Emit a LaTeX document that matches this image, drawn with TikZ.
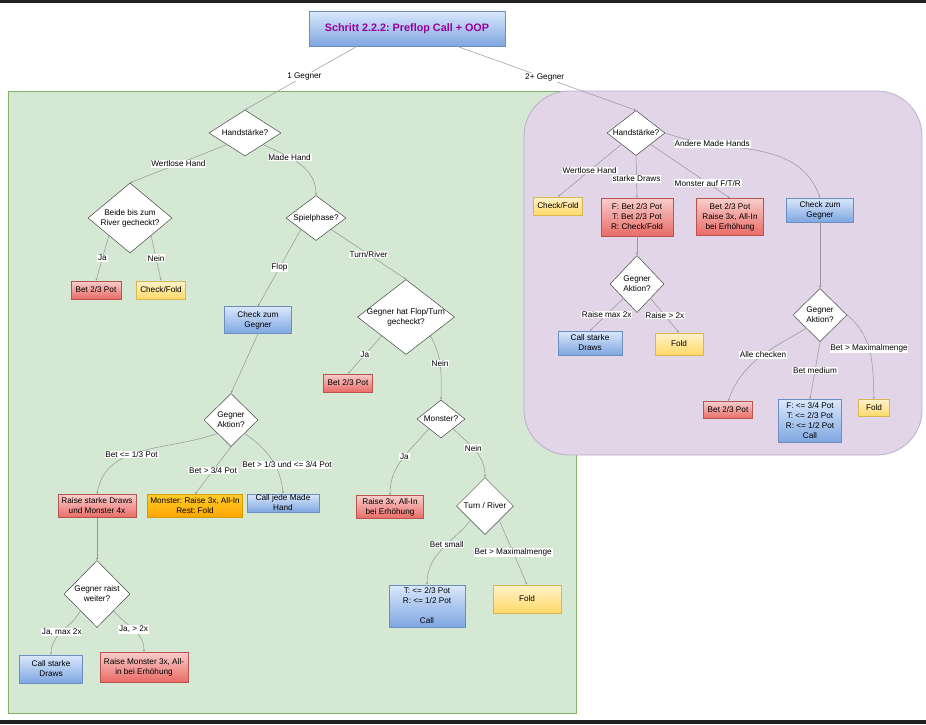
\documentclass[tikz,border=0pt]{standalone}
\usepackage{fontspec}
\setmainfont{Liberation Sans}
\frenchspacing
\usetikzlibrary{shapes.geometric, arrows.meta}
\definecolor{greenfill}{RGB}{213, 232, 212}
\definecolor{greenline}{RGB}{130, 179, 102}
\definecolor{purplefill}{RGB}{225, 213, 231}
\definecolor{purpleline}{RGB}{190, 172, 204}
\definecolor{bluetop}{RGB}{218, 232, 252}
\definecolor{bluebot}{RGB}{126, 166, 224}
\definecolor{blueline}{RGB}{108, 142, 191}
\definecolor{redtop}{RGB}{248, 206, 204}
\definecolor{redbot}{RGB}{234, 107, 102}
\definecolor{redline}{RGB}{184, 84, 80}
\definecolor{yellowtop}{RGB}{255, 242, 204}
\definecolor{yellowbot}{RGB}{255, 217, 102}
\definecolor{yellowline}{RGB}{214, 182, 86}
\definecolor{orangetop}{RGB}{255, 205, 40}
\definecolor{orangebot}{RGB}{255, 165, 0}
\definecolor{orangeline}{RGB}{215, 155, 0}
\definecolor{titletext}{RGB}{153, 0, 153}
\definecolor{edgegray}{RGB}{150, 150, 150}
\definecolor{diamondline}{RGB}{70, 70, 70}
\definecolor{bardark}{RGB}{34, 34, 34}
\newcommand{\qtext}[1]{\makebox[0pt]{\begin{tabular}{@{}c@{}}#1\end{tabular}}}

\begin{document}
\begin{tikzpicture}[
    x=1pt, y=-1pt,
    box/.style={rectangle, align=center, inner sep=1pt, font=\fontsize{8.2}{10}\selectfont, line width=0.6pt},
    bluebox/.style={box, draw=blueline, top color=bluetop, bottom color=bluebot},
    redbox/.style={box, draw=redline, top color=redtop, bottom color=redbot},
    yellowbox/.style={box, draw=yellowline, top color=yellowtop, bottom color=yellowbot},
    orangebox/.style={box, draw=orangeline, top color=orangetop, bottom color=orangebot},
    decision/.style={diamond, draw=diamondline, fill=white, inner sep=0pt, line width=0.5pt, font=\fontsize{8.2}{10}\selectfont},
    region/.style={rectangle, line width=0.8pt},
    conn/.style={-{Stealth[length=2.5pt, width=2pt]}, color=edgegray, line width=0.5pt},
    elabel/.style={fill=white, inner sep=0.8pt, text=black, font=\fontsize{8.2}{10}\selectfont},
]
\useasboundingbox (0,0) rectangle (926,724);
\fill[bardark] (0,0) rectangle (926,3);
\fill[bardark] (0,720) rectangle (926,724);

% Regions
\node[region, draw=greenline, fill=greenfill, minimum width=568pt, minimum height=622pt] (onegroup) at (292,402) {};
\node[region, draw=purpleline, fill=purplefill, rounded corners=45pt, minimum width=398pt, minimum height=364pt] (multigroup) at (723,273) {};

% Title
\node[bluebox, minimum width=196pt, minimum height=35pt, font=\fontsize{10.8}{12}\selectfont\bfseries, text=titletext] (title) at (407,28.5) {Schritt 2.2.2: Preflop Call + OOP};

% 1 Gegner
\node[decision, minimum width=72pt, minimum height=46pt] (handA) at (245,133) {\qtext{Handst\"arke?}};
\node[decision, minimum width=84pt, minimum height=70pt] (checked) at (130,218) {\qtext{Beide bis zum\\River gecheckt?}};
\node[redbox, minimum width=50pt, minimum height=18pt] (betA) at (96,290) {Bet 2/3 Pot};
\node[yellowbox, minimum width=49pt, minimum height=18pt] (foldA) at (161,290) {Check/Fold};
\node[decision, minimum width=60pt, minimum height=45pt] (phase) at (316,218) {\qtext{Spielphase?}};
\node[bluebox, minimum width=67pt, minimum height=27pt] (checkA) at (258,320) {Check zum\\Gegner};
\node[decision, minimum width=97pt, minimum height=75pt] (oppchecked) at (406,317) {\qtext{Gegner hat Flop/Turn\\gecheckt?}};
\node[redbox, minimum width=49pt, minimum height=18pt] (betB) at (348,383) {Bet 2/3 Pot};
\node[decision, minimum width=48pt, minimum height=38pt] (monster) at (441,419) {\qtext{Monster?}};
\node[redbox, minimum width=67pt, minimum height=23pt] (raiseA) at (390,507) {Raise 3x, All-In\\bei Erh\"ohung};
\node[decision, minimum width=57pt, minimum height=57pt] (street) at (485,506) {\qtext{Turn / River}};
\node[bluebox, minimum width=76pt, minimum height=42pt] (callA) at (427,606) {T: <= 2/3 Pot\\R: <= 1/2 Pot\\\mbox{}\\Call};
\node[yellowbox, minimum width=68pt, minimum height=28pt] (foldB) at (527,599) {Fold};
\node[decision, minimum width=54pt, minimum height=53pt] (actionA) at (231,420) {\qtext{Gegner\\Aktion?}};
\node[redbox, minimum width=78pt, minimum height=23pt] (raiseB) at (97,506) {Raise starke Draws\\und Monster 4x};
\node[orangebox, minimum width=95pt, minimum height=23pt] (monsterA) at (195,506) {Monster: Raise 3x, All-In\\Rest: Fold};
\node[bluebox, minimum width=72pt, minimum height=18pt, inner ysep=0pt] (callB) at (283,503) {Call jede Made\\Hand};
\node[decision, minimum width=66pt, minimum height=67pt] (reraise) at (97,594) {\qtext{Gegner raist\\weiter?}};
\node[bluebox, minimum width=63pt, minimum height=28pt] (callC) at (51,669) {Call starke\\Draws};
\node[redbox, minimum width=88pt, minimum height=30pt] (raiseC) at (144,667) {Raise Monster 3x, All-\\in bei Erh\"ohung};

% 2+ Gegner
\node[decision, minimum width=58pt, minimum height=45pt] (handB) at (636,133) {\qtext{Handst\"arke?}};
\node[yellowbox, minimum width=49pt, minimum height=18pt] (foldC) at (558,206) {Check/Fold};
\node[redbox, minimum width=72pt, minimum height=38pt] (draws) at (637,217) {F: Bet 2/3 Pot\\T: Bet 2/3 Pot\\R: Check/Fold};
\node[redbox, minimum width=67pt, minimum height=37pt] (monsterB) at (730,217) {Bet 2/3 Pot\\Raise 3x, All-In\\bei Erh\"ohung};
\node[bluebox, minimum width=67pt, minimum height=24pt] (checkB) at (820,210) {Check zum\\Gegner};
\node[decision, minimum width=54pt, minimum height=57pt] (actionB) at (637,284) {\qtext{Gegner\\Aktion?}};
\node[bluebox, minimum width=64pt, minimum height=24pt] (callD) at (590,343) {Call starke\\Draws};
\node[yellowbox, minimum width=48pt, minimum height=22pt] (foldD) at (679,344) {Fold};
\node[decision, minimum width=54pt, minimum height=53pt] (actionC) at (820,315) {\qtext{Gegner\\Aktion?}};
\node[redbox, minimum width=49pt, minimum height=17pt] (betC) at (728,410) {Bet 2/3 Pot};
\node[bluebox, minimum width=63pt, minimum height=43pt] (callE) at (810,421) {F: <= 3/4 Pot\\T: <= 2/3 Pot\\R: <= 1/2 Pot\\Call};
\node[yellowbox, minimum width=31pt, minimum height=17pt] (foldE) at (874,408) {Fold};

% Connectors
\draw[conn] ([xshift=-50pt]title.south) -- node[elabel, pos=0.47] {1 Gegner} (handA.north);
\draw[conn] ([xshift=50pt]title.south) -- node[elabel, pos=0.49] {2+ Gegner} (handB.north);

\draw[conn] (handA.south west) -- node[elabel] {Wertlose Hand} (checked.north);
\draw[conn] (handA.south east) to[out=-25, in=90] node[elabel, pos=0.35] {Made Hand} (phase.north);
\draw[conn] (checked.south west) -- node[elabel] {Ja} (betA.north);
\draw[conn] (checked.south east) -- node[elabel] {Nein} (foldA.north);
\draw[conn] (phase.south west) -- node[elabel] {Flop} (checkA.north);
\draw[conn] (phase.south east) -- node[elabel] {Turn/River} (oppchecked.north);
\draw[conn] (checkA.south) -- (actionA.north);
\draw[conn] (oppchecked.south west) -- node[elabel] {Ja} (betB.north);
\draw[conn] (oppchecked.south east) to[out=-60, in=90] node[elabel, pos=0.45] {Nein} (monster.north);
\draw[conn] (monster.south west) to[out=-130, in=90] node[elabel, pos=0.45] {Ja} (raiseA.north);
\draw[conn] (monster.south east) to[out=-45, in=90] node[elabel, pos=0.45] {Nein} (street.north);
\draw[conn] (street.south west) to[out=-130, in=90] node[elabel, pos=0.4] {Bet small} (callA.north);
\draw[conn] (street.south east) -- node[elabel] {Bet > Maximalmenge} (foldB.north);
\draw[conn] (actionA.south west) to[out=200, in=80] node[elabel, pos=0.58] {Bet <= 1/3 Pot} (raiseB.north);
\draw[conn] (actionA.south) -- node[elabel] {Bet > 3/4 Pot} (monsterA.north);
\draw[conn] (actionA.south east) to[out=-35, in=95] node[elabel, pos=0.6, xshift=12pt] {Bet > 1/3 und <= 3/4 Pot} (callB.north);
\draw[conn] (raiseB.south) -- (reraise.north);
\draw[conn] (reraise.south west) to[out=-120, in=90] node[elabel] {Ja, max 2x} (callC.north);
\draw[conn] (reraise.south east) to[out=-50, in=90] node[elabel] {Ja, > 2x} (raiseC.north);

\draw[conn] (handB.south west) -- node[elabel] {Wertlose Hand} (foldC.north);
\draw[conn] (handB.south) -- node[elabel, pos=0.55] {starke Draws} (draws.north);
\draw[conn] (handB.south east) -- node[elabel, pos=0.72] {Monster auf F/T/R} (monsterB.north);
\draw[conn] (handB.east) to[out=-20, in=110] node[elabel, pos=0.25] {Andere Made Hands} (checkB.north);
\draw[conn] (draws.south) -- (actionB.north);
\draw[conn] (actionB.south west) -- node[elabel] {Raise max 2x} (callD.north);
\draw[conn] (actionB.south east) -- node[elabel] {Raise > 2x} (foldD.north);
\draw[conn] (checkB.south) -- (actionC.north);
\draw[conn] (actionC.south west) to[out=210, in=70] node[elabel, pos=0.45] {Alle checken} (betC.north);
\draw[conn] (actionC.south) -- node[elabel] {Bet medium} (callE.north);
\draw[conn] (actionC.east) to[out=-40, in=92] node[elabel, pos=0.45] {Bet > Maximalmenge} (foldE.north);

\end{tikzpicture}
\end{document}
